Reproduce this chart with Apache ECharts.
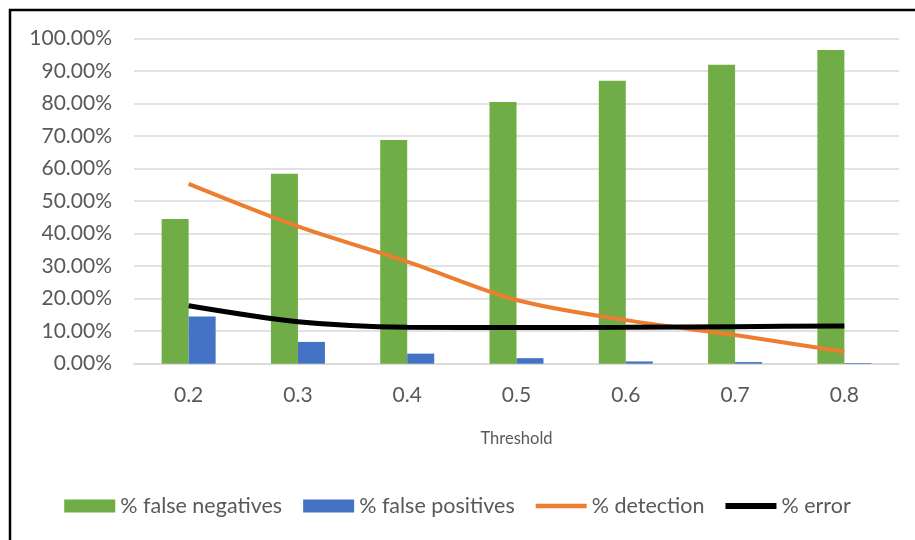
<!DOCTYPE html>
<html>
<head>
<meta charset="utf-8">
<script src="https://cdn.jsdelivr.net/npm/echarts@6/dist/echarts.min.js"></script>
<style>html,body{margin:0;padding:0;background:#fff}#c{width:915px;height:540px}</style>
</head>
<body>
<div id="c"></div>
<script>
const categories = ['0.2', '0.3', '0.4', '0.5', '0.6', '0.7', '0.8'];
const falseNegatives = [44.5, 58.4, 68.8, 80.5, 87.0, 91.9, 96.5];
const falsePositives = [14.5, 6.7, 3.1, 1.7, 0.7, 0.5, 0.2];
const detection = [55.3, 42.2, 31.4, 19.6, 13.4, 8.8, 3.7];
const errorRate = [17.8, 12.9, 11.2, 11.1, 11.2, 11.4, 11.6];
const yTicks = [0, 10, 20, 30, 40, 50, 60, 70, 80, 90, 100];

const FONT = 'Lato';
const chart = echarts.init(document.getElementById('c'));
chart.setOption({
  animation: false,
  backgroundColor: '#fff',
  textStyle: { fontFamily: FONT },
  graphic: [{
    type: 'rect', z: 100, silent: true,
    shape: { x: 10, y: 10, width: 920, height: 560 },
    style: { fill: 'none', stroke: '#000', lineWidth: 2.5 }
  }],
  grid: { left: 134, right: 16, top: 38.5, bottom: 176.3, containLabel: false },
  legend: {
    top: 490, left: 'center',
    itemWidth: 51, itemHeight: 13, itemGap: 21,
    textStyle: { fontFamily: FONT, fontSize: 21.5, color: '#595959' },
    data: [
      { name: '% false negatives', icon: 'rect' },
      { name: '% false positives', icon: 'rect' },
      { name: '% detection', icon: 'path://M0,0 H51 V4.5 H0 Z', symbolKeepAspect: true },
      { name: '% error', icon: 'path://M0,0 H51 V6 H0 Z', symbolKeepAspect: true }
    ]
  },
  xAxis: {
    type: 'category', data: categories,
    name: 'Threshold', nameLocation: 'middle', nameGap: 66,
    nameTextStyle: { fontFamily: FONT, fontSize: 16.5, color: '#595959' },
    axisLine: { lineStyle: { color: '#d9d9d9', width: 1.5 } },
    axisTick: { show: false },
    axisLabel: { fontFamily: FONT, fontSize: 21, color: '#595959', margin: 21 }
  },
  yAxis: {
    type: 'value', min: 0, max: 100, interval: 10,
    axisLine: { show: false }, axisTick: { show: false },
    splitLine: { lineStyle: { color: '#d9d9d9', width: 1.5 } },
    axisLabel: { fontFamily: FONT, fontSize: 21, color: '#595959', margin: 22,
      formatter: v => yTicks.includes(v) ? v.toFixed(2) + '%' : '' }
  },
  series: [
    { name: '% false negatives', type: 'bar', data: falseNegatives, barWidth: 27, barGap: '0%',
      itemStyle: { color: '#70ad47' } },
    { name: '% false positives', type: 'bar', data: falsePositives, barWidth: 27, barGap: '0%',
      itemStyle: { color: '#4472c4' } },
    { name: '% detection', type: 'line', data: detection, smooth: 0.3, symbol: 'none',
      lineStyle: { color: '#ed7d31', width: 4 }, itemStyle: { color: '#ed7d31' } },
    { name: '% error', type: 'line', data: errorRate, smooth: 0.3, symbol: 'none',
      lineStyle: { color: '#000', width: 5 }, itemStyle: { color: '#000' } }
  ]
});
</script>
</body>
</html>
